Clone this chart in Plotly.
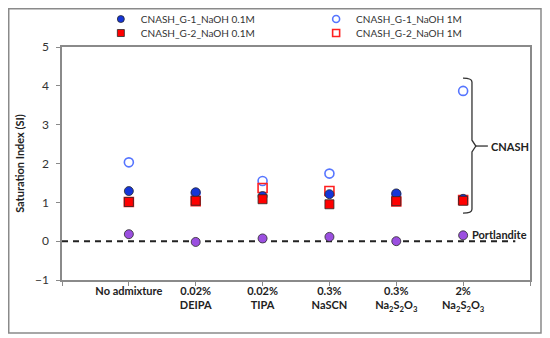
import plotly.graph_objects as go

categories = ["No admixture", "0.02%<br>DEIPA", "0.02%<br>TIPA", "0.3%<br>NaSCN",
              "0.3%<br>Na<sub>2</sub>S<sub>2</sub>O<sub>3</sub>",
              "2%<br>Na<sub>2</sub>S<sub>2</sub>O<sub>3</sub>"]
xpos = [1, 2, 3, 4, 5, 6]

g1_01 = [1.29, 1.26, 1.16, 1.21, 1.23, 1.09]
g1_1 = [2.03, 1.24, 1.55, 1.74, 1.21, 3.87]
g2_01 = [1.01, 1.04, 1.08, 0.95, 1.03, 1.04]
g2_1 = [1.01, 1.03, 1.37, 1.29, 1.02, 1.06]
portlandite = [0.18, -0.02, 0.07, 0.11, 0.0, 0.15]

yticks = [-1, 0, 1, 2, 3, 4, 5]

FONT = "Lato"
outline = dict(color="#2a2a2a", width=0.8)

series = [
    ("CNASH_G-1_NaOH 1M", g1_1, dict(symbol="circle-open", color="#5675FF",
                                     line=dict(width=1.6, color="#5675FF")), "legend2"),
    ("CNASH_G-2_NaOH 1M", g2_1, dict(symbol="square-open", color="#FF2020",
                                     line=dict(width=1.6, color="#FF2020")), "legend4"),
    ("CNASH_G-1_NaOH 0.1M", g1_01, dict(symbol="circle", color="#1535D8", line=outline), "legend"),
    ("CNASH_G-2_NaOH 0.1M", g2_01, dict(symbol="square", color="#FF0000", line=outline), "legend3"),
]

fig = go.Figure()
for name, vals, mk, lg in series:
    fig.add_trace(go.Scatter(x=xpos, y=vals, mode="markers", name=name, showlegend=False,
                             marker=dict(size=9, **mk)))
for name, vals, mk, lg in series:
    fig.add_trace(go.Scatter(x=[None], y=[None], mode="markers", name=name, legend=lg,
                             marker=dict(size=7, **mk)))
fig.add_trace(go.Scatter(x=xpos, y=portlandite, mode="markers", name="Portlandite",
                         showlegend=False,
                         marker=dict(symbol="circle", size=9, color="#9B4FE0", line=outline)))

# dashed zero line
fig.add_shape(type="line", x0=0, x1=6.78, y0=0, y1=0, xref="x", yref="y",
              line=dict(color="#222222", width=2, dash="6px,5px"), layer="below")

# brace for CNASH
brace = ("M 5.998,4.20 Q 6.132,4.20 6.132,4.10 L 6.132,2.60 L 6.19,2.45 "
         "L 6.132,2.30 L 6.132,0.82 Q 6.132,0.72 5.998,0.72")
fig.add_shape(type="path", path=brace, xref="x", yref="y",
              line=dict(color="#333333", width=1.3))
fig.add_shape(type="line", x0=6.19, x1=6.37, y0=2.45, y1=2.45, xref="x", yref="y",
              line=dict(color="#333333", width=1.3))
fig.add_annotation(x=6.39, y=2.45, text="<b>CNASH</b>", showarrow=False, xanchor="left",
                   font=dict(family=FONT, size=11, color="#222222"))
fig.add_annotation(x=6.1, y=0.16, text="<b>Portlandite</b>", showarrow=False, xanchor="left",
                   font=dict(family=FONT, size=11, color="#222222"))

# outer frame
fig.add_shape(type="rect", xref="paper", yref="paper", x0=-0.1138, x1=1.0235,
              y0=-0.2275, y1=1.1642, line=dict(color="#8a8a8a", width=1.5))

leg_common = dict(xanchor="left", yanchor="middle", bgcolor="rgba(0,0,0,0)",
                  font=dict(family=FONT, size=10, color="#333333"), itemwidth=30)
fig.update_layout(
    width=542, height=330,
    margin=dict(l=54, r=20, t=39, b=58, autoexpand=False),
    paper_bgcolor="white", plot_bgcolor="white",
    font=dict(family=FONT, size=12, color="#333333"),
    legend=dict(x=0.083, y=1.120, **leg_common),
    legend2=dict(x=0.543, y=1.120, **leg_common),
    legend3=dict(x=0.083, y=1.060, **leg_common),
    legend4=dict(x=0.543, y=1.060, **leg_common),
)
fig.update_xaxes(range=[0, 7], tickvals=xpos,
                 ticktext=["<b>" + c.replace("<br>", "</b><br><b>") + "</b>" for c in categories],
                 showline=True, linecolor="#8a8a8a", linewidth=1.5, mirror=True,
                 ticks="", showgrid=False,
                 minor=dict(tick0=0, dtick=1, ticks="outside", ticklen=4, tickcolor="#8a8a8a",
                            showgrid=False),
                 zeroline=False, tickfont=dict(family=FONT, size=11, color="#222222"))
fig.update_yaxes(range=[-1, 5], tickvals=yticks, showline=True, linecolor="#8a8a8a",
                 linewidth=1.5, mirror=True, ticks="outside", ticklen=4, tickcolor="#8a8a8a",
                 showgrid=False, zeroline=False, ticklabelstandoff=5,
                 tickfont=dict(family=FONT, size=12, color="#333333"),
                 title=dict(text="<b>Saturation Index (SI)</b>", standoff=8,
                            font=dict(family=FONT, size=11, color="#222222")))

fig.write_html("out.html")
